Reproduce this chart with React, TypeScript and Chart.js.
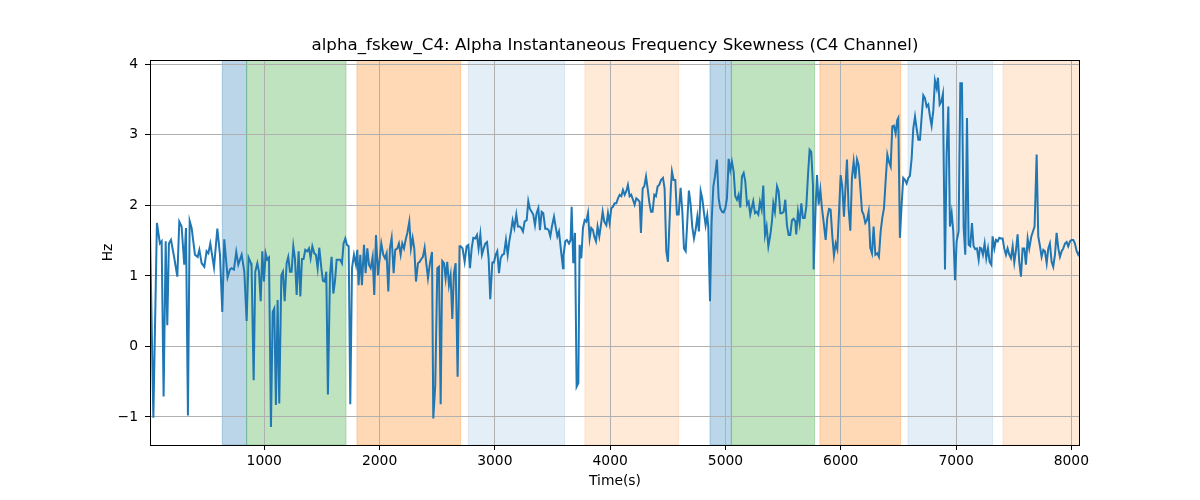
import { useEffect, useRef } from "react";
import { Chart, registerables } from "chart.js";
import type { Plugin } from "chart.js";

Chart.register(...registerables);

// sample times (s) and alpha frequency skewness (Hz)
const timeSec = [
  9, 38, 69, 95, 110, 127, 145, 159, 173, 191,
  220, 246, 263, 283, 306, 321, 338, 353, 370, 399,
  422, 437, 457, 480, 500, 515, 532, 564, 593, 616,
  636, 653, 682, 702, 717, 737, 757, 775, 804, 827,
  847, 864, 885,
  890, 908, 922, 940, 954, 969, 983, 997, 1012, 1026,
  1041, 1058, 1073, 1087, 1101, 1116, 1130, 1148, 1162, 1177,
  1194, 1208, 1223, 1237, 1252, 1266, 1281, 1298, 1313, 1327,
  1341, 1356, 1373, 1388, 1402, 1417, 1434, 1448, 1463, 1477,
  1495, 1509, 1524, 1538, 1552, 1570, 1584, 1599, 1613, 1628,
  1645, 1659, 1674, 1688, 1703, 1717, 1732, 1746, 1761, 1778,
  1795,
  1807, 1818, 1833, 1847, 1865, 1879, 1894, 1908, 1923, 1940,
  1954, 1969, 1986, 2015, 2032, 2047, 2061, 2076, 2090, 2105,
  2122, 2136, 2154, 2168, 2183, 2197, 2212, 2226, 2241, 2258,
  2272, 2287, 2301, 2316, 2333, 2348, 2362, 2376, 2391, 2405,
  2420, 2437, 2455, 2466, 2483, 2501, 2515, 2530, 2544, 2559,
  2573, 2587, 2602, 2616, 2631, 2645, 2660, 2677, 2694,
  2703, 2720, 2738, 2755, 2770, 2784, 2799, 2813, 2830, 2845,
  2859, 2874, 2888, 2903, 2917, 2932, 2946, 2960, 2978, 2992,
  3007, 3021, 3036, 3050, 3065, 3079, 3096, 3111, 3125, 3140,
  3154, 3169, 3186, 3200, 3215, 3229, 3244, 3258, 3276, 3290,
  3304, 3319, 3333, 3348, 3362, 3377, 3391, 3406, 3420, 3437,
  3452, 3466, 3481, 3495, 3513, 3527, 3542, 3556, 3573, 3591,
  3596, 3611, 3625, 3643, 3657, 3666, 3680, 3695, 3709, 3724,
  3735, 3750, 3764, 3779, 3793, 3808, 3822, 3836, 3851, 3862,
  3877, 3891, 3906, 3920, 3935, 3949, 3967, 3981, 3995, 4010,
  4024, 4039, 4053, 4068, 4082, 4097, 4111, 4126, 4140, 4154,
  4169, 4183, 4198, 4212, 4227, 4241, 4256, 4267, 4282, 4296,
  4311, 4325, 4339, 4354, 4368, 4383, 4397, 4412, 4426, 4441,
  4458, 4472, 4487, 4501,
  4527, 4536, 4550, 4565, 4579, 4594, 4611, 4626, 4640, 4655,
  4669, 4683, 4698, 4712, 4727, 4741, 4756, 4770, 4785, 4799,
  4814, 4828, 4842, 4851, 4866, 4880, 4895, 4909, 4926, 4941,
  4955, 4970, 4984, 4999, 5013, 5028, 5042, 5056, 5071, 5085,
  5100, 5114, 5129, 5143, 5158, 5172, 5187, 5201, 5215, 5230,
  5241, 5256, 5270, 5285, 5299, 5314, 5328, 5343, 5357, 5372,
  5389, 5403,
  5415, 5429, 5447, 5461, 5476, 5490, 5505, 5519, 5533, 5548,
  5562, 5577, 5591, 5606, 5614, 5629, 5643, 5658, 5672, 5687,
  5701, 5716, 5730, 5744, 5759, 5765, 5782, 5794, 5808, 5823,
  5837, 5851, 5869, 5883, 5898, 5912, 5927, 5941, 5956, 5970,
  5984, 5999, 6013, 6028, 6042, 6054, 6068, 6083, 6097, 6112,
  6126, 6141, 6155, 6169, 6184, 6198, 6213, 6227, 6242, 6256,
  6271, 6285, 6300,
  6317, 6331, 6346, 6360, 6375, 6389, 6404, 6418, 6433, 6447,
  6461, 6476, 6490, 6499, 6513, 6528, 6542, 6557, 6571, 6586,
  6600, 6615, 6629, 6644, 6658, 6673, 6687, 6701, 6716, 6730,
  6745, 6759, 6774, 6788, 6803, 6817, 6832, 6843, 6858, 6872,
  6886, 6904, 6918, 6933, 6947, 6962, 6976, 6991, 7005, 7022,
  7037, 7051, 7066, 7080, 7095, 7109, 7123, 7138, 7152, 7167,
  7181, 7196, 7207,
  7219, 7233, 7248, 7262, 7277, 7291, 7306, 7317, 7332, 7346,
  7361, 7375, 7389, 7404, 7418, 7433, 7447, 7462, 7476, 7491,
  7505, 7520, 7534, 7548, 7563, 7577, 7592, 7606, 7621, 7635,
  7653, 7667, 7681, 7699, 7713, 7728, 7742, 7757, 7771, 7786,
  7800, 7814, 7829, 7843, 7858, 7872, 7887, 7901, 7916, 7930,
  7945, 7959, 7973, 7988, 8002, 8017, 8031, 8046, 8060, 8075,
];

const skewHz = [
  1.63, -1.01, 1.75, 1.46, 1.49, -0.71, 1.49, 0.3, 1.46, 1.51,
  1.25, 0.99, 1.77, 1.7, 1.16, 1.68, -0.98, 1.78, 1.68, 1.3,
  1.27, 1.37, 1.18, 1.13, 1.35, 1.32, 1.46, 1.12, 1.67, 1.3,
  0.49, 1.52, 0.98, 1.09, 1.11, 1.09, 1.34, 1.16, 1.3, 1.06,
  0.36, 1.26, 1.18,
  1.13, -0.48, 1.06, 1.18, 1.06, 0.64, 1.35, 0.92, 1.32, 1.23,
  1.26, -1.14, 0.49, 0.54, -0.83, 0.66, -0.81, 1.01, 1.06, 0.64,
  1.18, 1.27, 1.06, 1.06, 1.42, 1.25, 0.73, 1.35, 0.71, 1.24,
  1.24, 1.37, 1.35, 1.39, 1.25, 1.42, 1.32, 1.3, 1.11, 1.4,
  1.11, 0.93, 0.92, 1.06, -0.68, 1.01, 1.27, 0.75, 0.92, 1.23,
  1.23, 1.23, 1.18, 1.46, 1.53, 1.44, 1.42, -0.82, 1.11, 1.3,
  1.16,
  1.37, 0.87, 1.3, 0.87, 1.44, 1.04, 1.39, 1.16, 1.11, 1.27,
  0.73, 1.58, 1.01, 1.46, 1.3, 1.25, 1.32, 0.78, 1.39, 1.54,
  1.04, 1.37, 1.39, 1.46, 1.3, 1.46, 1.39, 1.51, 1.61, 1.77,
  1.39, 1.54, 1.39, 0.92, 1.18, 1.2, 1.24, 1.27, 1.4, 1.18,
  0.97, 1.18, 1.34, -1.02, -0.55, 1.11, 1.13, -0.82, 1.21, 1.18,
  0.97, 1.2, 0.87, 1.01, 0.39, 1.04, 1.18, -0.43, 1.42,
  1.42, 1.39, 1.2, 1.42, 1.44, 1.11, 1.39, 1.54, 1.53, 1.58,
  1.39, 1.59, 1.3, 1.39, 1.46, 1.48, 1.25, 0.67, 1.19, 1.19,
  1.3, 1.35, 1.04, 1.25, 1.3, 1.31, 1.51, 1.3, 1.49, 1.63,
  1.79, 1.68, 1.87, 1.7, 1.7, 1.68, 1.63, 1.77, 1.79, 2.06,
  1.95, 1.91, 1.87, 1.72, 1.89, 1.96, 1.65, 1.91, 1.89, 1.67,
  1.67, 1.65, 1.56, 1.7, 1.84, 1.7, 1.56, 1.63, 1.37, 1.11,
  1.3, 1.49, 1.51, 1.46, 1.51, 1.98, 1.18, 1.61, -0.57, -0.52,
  1.44, 1.25, 1.68, 1.79, 1.77, 1.89, 1.53, 1.68, 1.65, 1.56,
  1.49, 1.7, 1.56, 1.72, 1.91, 1.77, 1.72, 1.89, 1.75, 1.96,
  1.98, 2.03, 2.03, 2.1, 2.15, 2.13, 2.22, 2.15, 2.2, 2.29,
  2.13, 2.15, 2.08, 2.01, 2.1, 2.08, 2.05, 1.61, 2.24, 2.27,
  2.41, 2.24, 2.05, 1.91, 1.91, 2.15, 2.13, 2.27, 2.29, 2.36,
  2.39, 2.24, 1.35, 1.2,
  2.27, 2.48, 2.36, 2.36, 1.87, 1.87, 2.25, 1.91, 1.39, 1.35,
  1.77, 2.21, 2.01, 1.7, 1.53, 1.65, 1.84, 1.63, 2.2, 2.1,
  1.89, 1.72, 1.86, 1.7, 0.64, 1.77, 2.27, 2.41, 2.65, 2.1,
  1.96, 1.91, 1.9, 1.96, 2.1, 2.66, 2.5, 2.62, 2.48, 2.13,
  2.08, 2.15, 1.97, 2.41, 2.46, 2.34, 2.01, 2.05, 1.87, 1.98,
  2.06, 1.89, 1.91, 1.87, 2.05, 1.94, 2.28, 1.58, 1.7, 1.42,
  1.58, 1.77,
  2.03, 1.91, 2.27, 2.2, 1.89, 1.89, 1.91, 2.08, 1.72, 1.58,
  1.58, 1.79, 1.81, 1.77, 1.59, 1.91, 1.75, 2.03, 1.82, 1.82,
  1.98, 2.43, 2.79, 2.76, 2.29, 1.09, 1.98, 2.43, 2.01, 2.22,
  1.96, 1.77, 1.51, 1.82, 1.95, 1.94, 1.56, 1.29, 1.46, 1.38,
  1.87, 2.43, 2.27, 1.84, 2.29, 2.65, 1.96, 1.64, 2.39, 2.62,
  2.38, 2.65, 2.57, 2.27, 1.92, 1.87, 1.75, 1.79, 1.91, 1.4,
  1.32, 1.7, 1.3,
  1.32, 1.27, 1.63, 1.82, 1.96, 2.34, 2.72, 2.62, 2.55, 3.12,
  3.13, 3.02, 3.21, 3.24, 1.54, 2.01, 2.39, 2.36, 2.31, 2.39,
  2.42, 2.67, 3.09, 3.26, 3.09, 2.93, 2.93, 3.24, 3.56, 3.52,
  3.4, 3.43, 3.26, 3.13, 3.35, 3.77, 3.66, 3.81, 3.43, 3.47,
  3.58, 1.09, 2.72, 3.4, 1.7, 1.89, 1.63, 0.94, 1.49, 1.63,
  3.73, 3.73, 1.68, 1.3, 3.24, 1.44, 1.42, 1.75, 1.42, 1.38,
  1.39, 1.23, 1.4,
  1.39, 1.3, 1.46, 1.25, 1.39, 1.2, 1.16, 1.56, 1.39, 1.51,
  1.49, 1.54, 1.53, 1.53, 1.39, 1.3, 1.39, 1.3, 1.25, 1.42,
  1.19, 1.37, 1.59, 1.2, 0.99, 1.39, 1.39, 1.16, 1.53, 1.39,
  1.56, 1.63, 1.7, 2.72, 1.56, 1.42, 1.27, 1.37, 1.35, 1.18,
  1.39, 1.46, 1.2, 1.13, 1.3, 1.61, 1.39, 1.27, 1.35, 1.39,
  1.46, 1.48, 1.42, 1.49, 1.51, 1.51, 1.46, 1.35, 1.3, 1.35,
];

const xTicks = [1000, 2000, 3000, 4000, 5000, 6000, 7000, 8000];
const yTicks = [-1, 0, 1, 2, 3, 4];

// shaded time windows
const spanStarts = [636, 847, 1804, 2770, 3781, 4866, 5051, 5819, 6583, 7407];
const spanEnds = [847, 1709, 2703, 3605, 4594, 5051, 5773, 6519, 7317, 8075];
const spanKinds = [
  "blue", "green", "orange", "lightBlue", "lightOrange",
  "blue", "green", "orange", "lightBlue", "lightOrange",
];

const SPAN_COLORS: Record<string, string> = {
  blue: "rgba(31, 119, 180, 0.3)",
  green: "rgba(44, 160, 44, 0.3)",
  orange: "rgba(255, 127, 14, 0.3)",
  lightBlue: "rgba(31, 119, 180, 0.12)",
  lightOrange: "rgba(255, 127, 14, 0.16)",
};

const FONT = "DejaVu Sans";

const spansAndFrame: Plugin<"line"> = {
  id: "spansAndFrame",
  beforeDraw(chart) {
    const { ctx, chartArea: a } = chart;
    const x = chart.scales.x;
    ctx.save();
    ctx.beginPath();
    ctx.rect(a.left, a.top, a.right - a.left, a.bottom - a.top);
    ctx.clip();
    spanStarts.forEach((start, i) => {
      const x0 = x.getPixelForValue(start);
      const x1 = x.getPixelForValue(spanEnds[i]);
      const color = SPAN_COLORS[spanKinds[i]];
      ctx.fillStyle = color;
      ctx.fillRect(x0, a.top, x1 - x0, a.bottom - a.top);
      ctx.strokeStyle = color;
      ctx.lineWidth = 1;
      ctx.strokeRect(x0, a.top, x1 - x0, a.bottom - a.top);
    });
    ctx.restore();
  },
  afterDraw(chart) {
    const { ctx, chartArea: a } = chart;
    ctx.save();
    ctx.strokeStyle = "#000";
    ctx.lineWidth = 1;
    ctx.strokeRect(a.left + 0.5, a.top + 0.5, a.right - a.left - 1, a.bottom - a.top);
    ctx.restore();
  },
};

function SkewnessChart() {
  const canvasRef = useRef<HTMLCanvasElement>(null);
  const chartRef = useRef<Chart<"line"> | null>(null);

  useEffect(() => {
    if (!canvasRef.current) return;
    document.body.style.margin = "0";

    if (chartRef.current) chartRef.current.destroy();

    const tickFont = { family: FONT, size: 13.89 };

    chartRef.current = new Chart(canvasRef.current, {
      type: "line",
      data: {
        datasets: [
          {
            label: "alpha_fskew_C4",
            data: timeSec.map((t, i) => ({ x: t, y: skewHz[i] })),
            borderColor: "#1f77b4",
            borderWidth: 2,
            pointRadius: 0,
            tension: 0,
            fill: false,
          },
        ],
      },
      options: {
        responsive: false,
        animation: false,
        events: [],
        layout: { padding: { left: 0, right: 120, top: 0, bottom: 0 } },
        plugins: {
          legend: { display: false },
          tooltip: { enabled: false },
          title: {
            display: true,
            fullSize: false,
            text: "alpha_fskew_C4: Alpha Instantaneous Frequency Skewness (C4 Channel)",
            color: "#000",
            font: { family: FONT, size: 16.67, weight: "normal" },
            padding: { top: 36, bottom: 4 },
          },
        },
        scales: {
          x: {
            type: "linear",
            min: 9,
            max: 8075,
            afterBuildTicks: (s) => {
              s.ticks = xTicks.map((v) => ({ value: v }));
            },
            afterFit: (s) => {
              s.height = 55;
            },
            grid: { color: "#b0b0b0", lineWidth: 1, tickColor: "#000", tickLength: 5 },
            border: { display: false },
            ticks: {
              color: "#000",
              font: tickFont,
              padding: 3,
              maxRotation: 0,
              callback: (v) => String(v),
            },
            title: {
              display: true,
              text: "Time(s)",
              color: "#000",
              font: tickFont,
              padding: { top: 0, bottom: 10 },
            },
          },
          y: {
            type: "linear",
            min: -1.397,
            max: 4.061,
            afterBuildTicks: (s) => {
              s.ticks = yTicks.map((v) => ({ value: v }));
            },
            afterFit: (s) => {
              s.width = 150;
            },
            grid: { color: "#b0b0b0", lineWidth: 1, tickColor: "#000", tickLength: 5 },
            border: { display: false },
            ticks: {
              color: "#000",
              font: tickFont,
              padding: 7,
              callback: (v) => (Number(v) < 0 ? "\u2212" + Math.abs(Number(v)) : String(v)),
            },
            title: {
              display: true,
              text: "Hz",
              color: "#000",
              font: tickFont,
              padding: { top: 100, bottom: 0 },
            },
          },
        },
      },
      plugins: [spansAndFrame],
    });

    return () => {
      if (chartRef.current) {
        chartRef.current.destroy();
        chartRef.current = null;
      }
    };
  }, []);

  return (
    <div style={{ width: 1200, height: 500, background: "#fff" }}>
      <canvas ref={canvasRef} width={1200} height={500} />
    </div>
  );
}

export default function App() {
  return <SkewnessChart />;
}
